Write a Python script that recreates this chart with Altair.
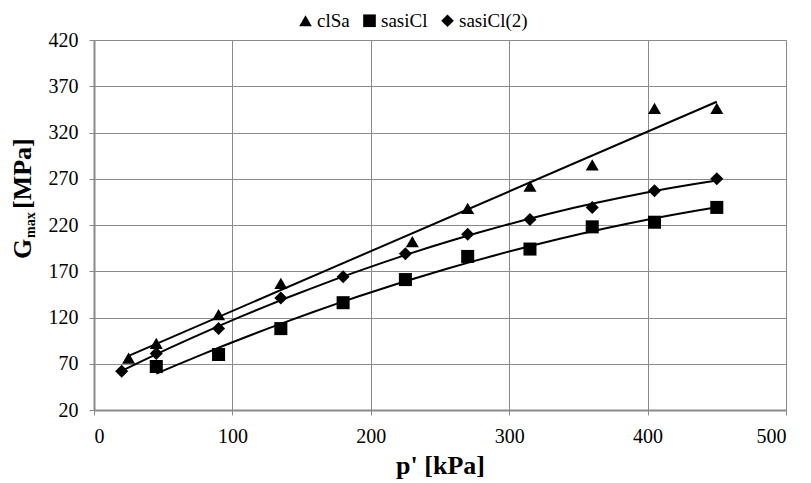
import altair as alt
import pandas as pd

series_names = ["clSa", "sasiCl", "sasiCl(2)"]

clsa_p = [25, 45, 90, 135, 230, 270, 315, 360, 405, 450]
clsa_g = [76, 92, 123, 157, 202, 238, 262, 285, 346, 346]

sasicl_p = [45, 90, 135, 180, 225, 270, 315, 360, 405, 450]
sasicl_g = [67, 80, 108, 136, 161, 186, 194, 218, 223, 239]

sasicl2_p = [20, 45, 90, 135, 180, 225, 270, 315, 360, 405, 450]
sasicl2_g = [62, 81, 108, 141, 164, 189, 210, 226, 239, 257, 270]

x_ticks = [0, 100, 200, 300, 400, 500]
y_ticks = [20, 70, 120, 170, 220, 270, 320, 370, 420]

rows = []
for name, xs, ys in [("clSa", clsa_p, clsa_g), ("sasiCl", sasicl_p, sasicl_g),
                     ("sasiCl(2)", sasicl2_p, sasicl2_g)]:
    for a, b in zip(xs, ys):
        rows.append({"series": name, "p": a, "g": b})
df = pd.DataFrame(rows)

FONT = "Liberation Serif"
GRID = "#8a8a8a"

xscale = alt.Scale(domain=[0, 500], nice=False)
yscale = alt.Scale(domain=[20, 420], nice=False)

xaxis = alt.Axis(values=x_ticks, title="p' [kPa]", titleFont=FONT, titleFontSize=26,
                 titleFontWeight="bold", titleColor="black", titlePadding=6,
                 labelFont=FONT, labelFontSize=20, labelColor="black", labelPadding=11,
                 grid=True, gridColor=GRID, gridWidth=1, domainColor=GRID, domainWidth=2,
                 tickColor=GRID, tickSize=5, tickWidth=1)
yaxis = alt.Axis(values=y_ticks, title=None,
                 labelFont=FONT, labelFontSize=20, labelColor="black", labelPadding=11,
                 grid=True, gridColor=GRID, gridWidth=1, domainColor=GRID, domainWidth=2,
                 tickColor=GRID, tickSize=5, tickWidth=1)

base = alt.Chart(df)

points = base.mark_point(filled=True, opacity=1, color="black", size=170).encode(
    x=alt.X("p:Q", scale=xscale, axis=xaxis),
    y=alt.Y("g:Q", scale=yscale, axis=yaxis),
    shape=alt.Shape("series:N",
                    scale=alt.Scale(domain=series_names,
                                    range=["triangle-up", "square", "diamond"]),
                    legend=alt.Legend(title=None, orient="none", direction="horizontal",
                                      legendX=202, legendY=-29,
                                      labelFont=FONT, labelFontSize=19, labelColor="black",
                                      symbolFillColor="black", symbolStrokeColor="black",
                                      symbolSize=160, symbolType="square",
                                      labelOffset=2, columnPadding=10)),
)

def trend(name, method, order=None):
    kw = {"method": method}
    if order is not None:
        kw["order"] = order
    return base.transform_filter(alt.datum.series == name).transform_regression(
        "p", "g", **kw).mark_line(color="black", strokeWidth=2).encode(
        x=alt.X("p:Q", scale=xscale), y=alt.Y("g:Q", scale=yscale))

lines = [trend("clSa", "linear"), trend("sasiCl", "poly", 2), trend("sasiCl(2)", "poly", 2)]

tdf = pd.DataFrame({"k": [0]})
t_g = alt.Chart(tdf).mark_text(text="G", angle=270, font=FONT, fontSize=26, fontWeight="bold",
                               align="left", baseline="alphabetic", color="black").encode(
    x=alt.value(-63), y=alt.value(219))
t_max = alt.Chart(tdf).mark_text(text="max", angle=270, font=FONT, fontSize=14, fontWeight="bold",
                                 align="left", baseline="alphabetic", color="black").encode(
    x=alt.value(-59), y=alt.value(198))
t_unit = alt.Chart(tdf).mark_text(text="[MPa]", angle=270, font=FONT, fontSize=26, fontWeight="bold",
                                  align="left", baseline="alphabetic", color="black").encode(
    x=alt.value(-63), y=alt.value(169))

chart = alt.layer(*lines, points, t_g, t_max, t_unit).properties(
    width=692, height=370,
    autosize=alt.AutoSizeParams(type="none"),
    padding={"left": 86, "top": 32, "right": 17, "bottom": 73},
).configure_view(stroke=None).configure(background="white")

chart.save("out.html", embed_options={"renderer": "svg", "actions": False})
